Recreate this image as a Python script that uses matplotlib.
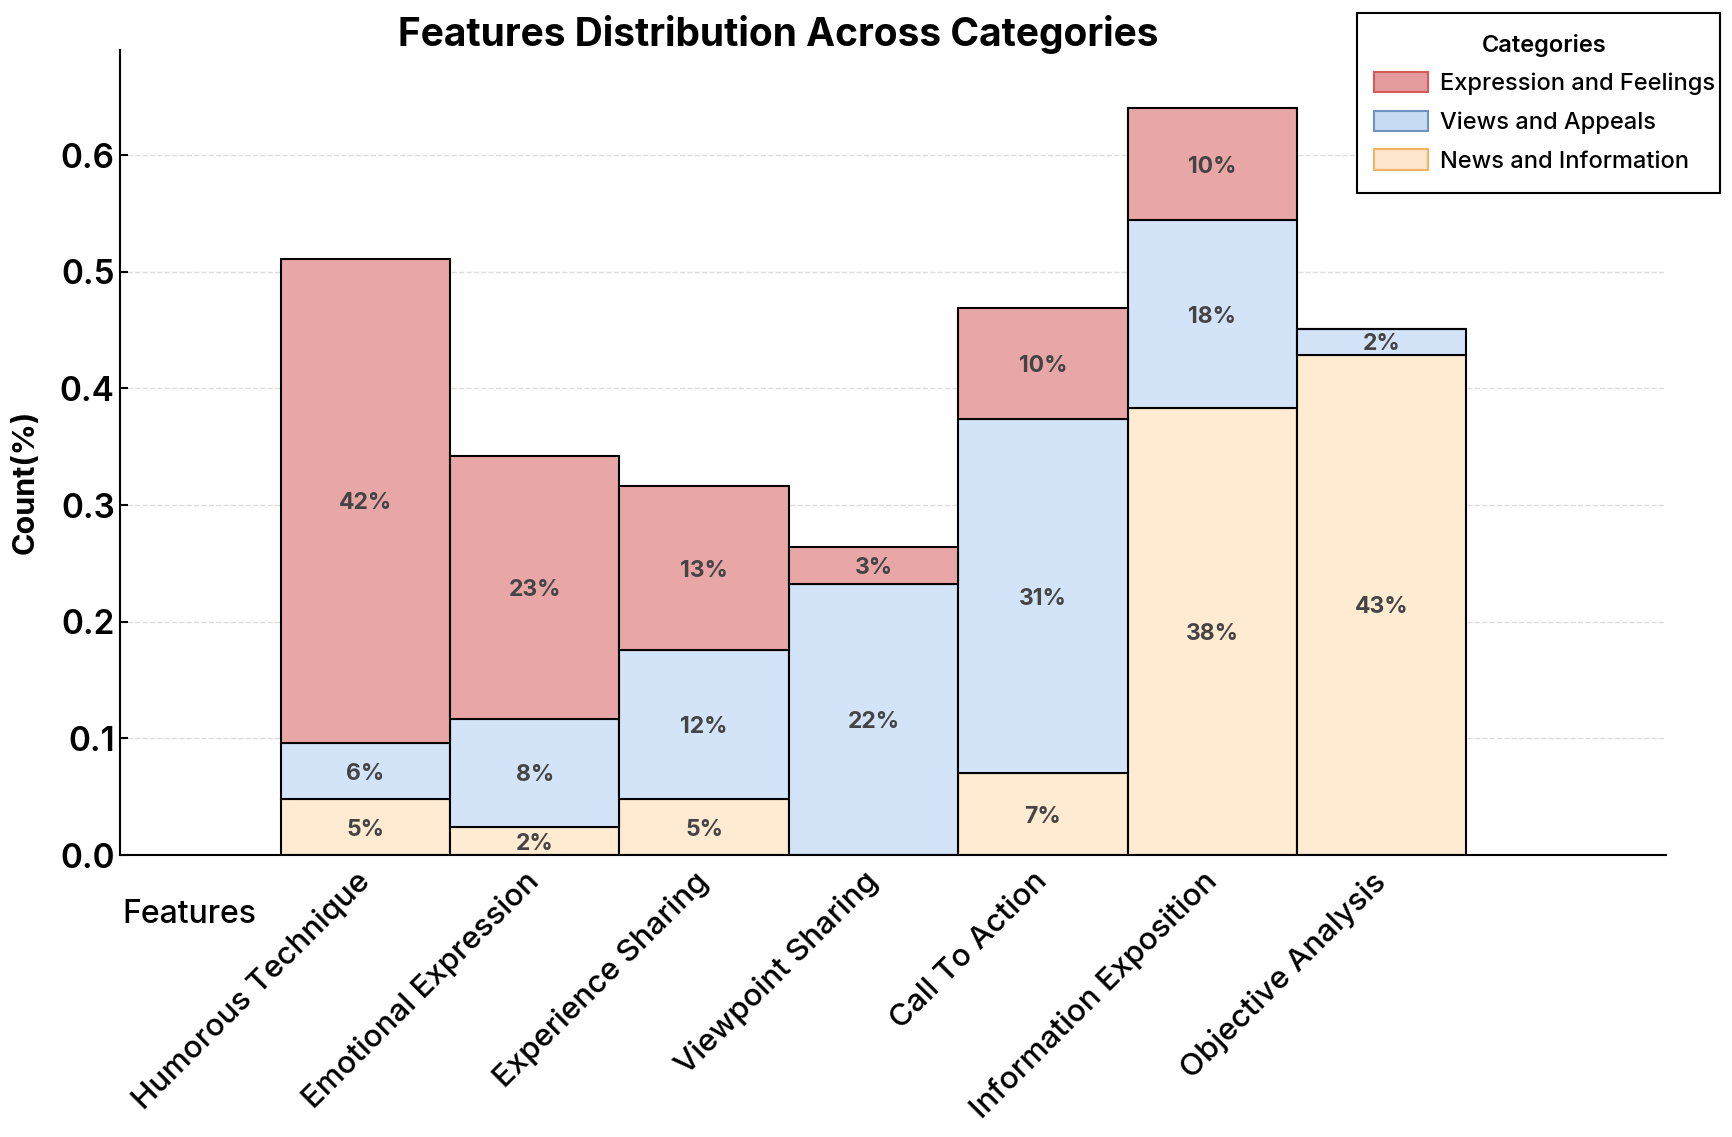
import matplotlib.pyplot as plt
from matplotlib.patches import Patch, Rectangle

plt.rcParams['font.family'] = ['Inter', 'DejaVu Sans']

# Data (segment heights)
features = ["Humorous Technique", "Emotional Expression", "Experience Sharing",
            "Viewpoint Sharing", "Call To Action", "Information Exposition",
            "Objective Analysis"]
news = [0.048, 0.024, 0.048, 0.000, 0.070, 0.383, 0.429]
views = [0.048, 0.093, 0.128, 0.232, 0.304, 0.161, 0.022]
expression = [0.415, 0.225, 0.140, 0.032, 0.095, 0.096, 0.000]

# Printed percentage labels
news_pct = [5, 2, 5, 0, 7, 38, 43]
views_pct = [6, 8, 12, 22, 31, 18, 2]
expression_pct = [42, 23, 13, 3, 10, 10, 0]

categories = ["Expression and Feelings", "Views and Appeals", "News and Information"]
bar_colors = ["#E8A7A6", "#D3E4F8", "#FFEBD2"]
legend_faces = ["#E39B9B", "#C6DCF2", "#FDE6CB"]
legend_edges = ["#D65A5A", "#6F93C0", "#F0B465"]

fig = plt.figure(figsize=(17.33, 11.37), dpi=100)
ax = fig.add_axes([0.069, 0.248, 0.8925, 0.708])

x = list(range(len(features)))
bottom_views = news
bottom_expr = [n + v for n, v in zip(news, views)]

ax.bar(x, news, width=1.0, color=bar_colors[2], edgecolor="black", linewidth=1.5, zorder=2)
ax.bar(x, views, width=1.0, bottom=bottom_views, color=bar_colors[1],
       edgecolor="black", linewidth=1.5, zorder=2)
ax.bar(x, expression, width=1.0, bottom=bottom_expr, color=bar_colors[0],
       edgecolor="black", linewidth=1.5, zorder=2)

# percentage labels centred in each segment
for i in x:
    segs = [(0, news[i], news_pct[i]),
            (bottom_views[i], views[i], views_pct[i]),
            (bottom_expr[i], expression[i], expression_pct[i])]
    for b, h, p in segs:
        if p > 0:
            ax.text(i, b + h / 2, f"{p}%", ha="center", va="center_baseline",
                    fontsize=16.5, fontweight="bold", color="#444444", zorder=3)

ax.set_xlim(-1.45, 7.68)
ax.set_ylim(0, 0.69)
ax.set_yticks([0.0, 0.1, 0.2, 0.3, 0.4, 0.5, 0.6])
ax.set_xticks(x)
ax.set_xticklabels(features, rotation=45, ha="right", va="center",
                   rotation_mode="anchor", fontsize=22.5, fontweight="medium")
ax.tick_params(axis="x", length=0, pad=16)
ax.tick_params(axis="y", direction="in", length=6, width=1.5, labelsize=24)
for lbl in ax.get_yticklabels():
    lbl.set_fontweight("semibold")

ax.spines["top"].set_visible(False)
ax.spines["right"].set_visible(False)
ax.spines["left"].set_linewidth(1.5)
ax.spines["bottom"].set_linewidth(1.5)
ax.yaxis.grid(True, linestyle="--", color="#DDDDDD", linewidth=1, zorder=0)
ax.set_axisbelow(True)

ax.set_ylabel("Count(%)", fontsize=22, fontweight="bold")
ax.yaxis.set_label_coords(-0.0514, 0.4636)
ax.set_xlabel("Features", fontsize=23, fontweight="medium")
ax.xaxis.set_label_coords(0.045, -0.055)
ax.set_title("Features Distribution Across Categories", fontsize=28,
             fontweight="bold", x=0.426, y=1.0, pad=3)

# legend: text runs almost to the right edge of the box, so draw the box separately
box = Rectangle((0.783, 0.830), 0.2093, 0.1583, transform=fig.transFigure,
                facecolor="white", edgecolor="black", linewidth=1.5, zorder=4)
fig.add_artist(box)
handles = [Patch(facecolor=f, edgecolor=e, linewidth=1.5, label=c)
           for f, e, c in zip(legend_faces, legend_edges, categories)]
leg = fig.legend(handles=handles, title="Categories", loc="upper left",
                 bbox_to_anchor=(0.7805, 0.989), borderaxespad=0,
                 prop={"size": 17, "weight": "medium"},
                 title_fontsize=17, frameon=False, borderpad=0.9,
                 handlelength=2.3, handleheight=0.95,
                 labelspacing=0.65, handletextpad=0.5)
leg.set_zorder(5)
leg.get_title().set_fontweight("semibold")

fig.savefig("out.png", dpi=100)
